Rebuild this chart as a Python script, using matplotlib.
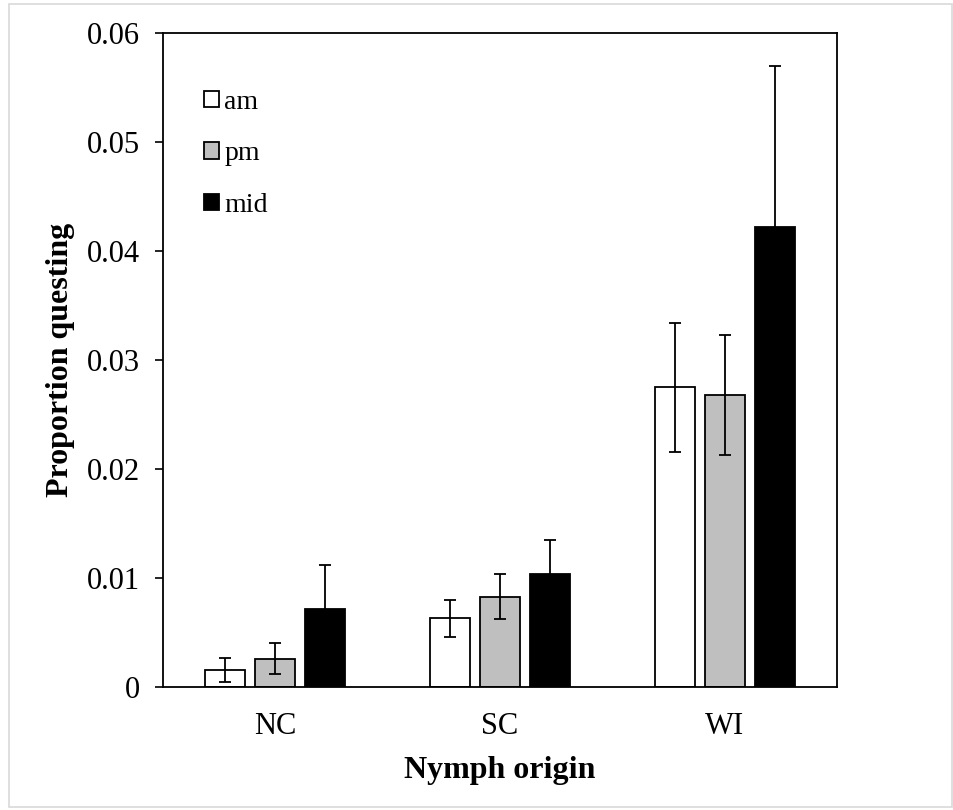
import numpy as np
import matplotlib
matplotlib.use('Agg')
from matplotlib import pyplot as plt
from matplotlib.patches import Rectangle

plt.rcParams['font.family'] = ['Liberation Serif', 'DejaVu Serif']

origins = ['NC', 'SC', 'WI']
series = ['am', 'pm', 'mid']
am = [0.0016, 0.0063, 0.0275]
pm = [0.0026, 0.0083, 0.0268]
mid = [0.0072, 0.0104, 0.0422]
am_err = [0.0011, 0.0017, 0.0059]
pm_err = [0.0014, 0.0021, 0.0055]
mid_err = [0.0040, 0.0031, 0.0148]
y_ticks = [0, 0.01, 0.02, 0.03, 0.04, 0.05, 0.06]
y_ticklabels = ['0', '0.01', '0.02', '0.03', '0.04', '0.05', '0.06']

fig = plt.figure(figsize=(9.54, 8.1), dpi=100)
ax = fig.add_axes([163 / 954, 123 / 810, 674 / 954, 654 / 810])

# light frame around the whole picture
fig.patches.append(Rectangle((9 / 954, 3 / 810), 943 / 954, 803 / 810,
                             transform=fig.transFigure, fill=False,
                             edgecolor='#d9d9d9', linewidth=1.2))

x = np.arange(len(origins))
width = 0.178
step = 0.2225
styles = [('white', am, am_err), ('#bfbfbf', pm, pm_err), ('black', mid, mid_err)]

for i, (color, vals, errs) in enumerate(styles):
    pos = x + (i - 1) * step
    ax.bar(pos, vals, width, color=color, edgecolor='black', linewidth=1.3,
           label=series[i], zorder=2)
    ax.errorbar(pos, vals, yerr=errs, fmt='none', ecolor='black',
                elinewidth=1.3, capsize=4.3, capthick=1.3, zorder=3)

ax.set_xlim(-0.5, 2.5)
ax.set_ylim(0, 0.06)
ax.set_yticks(y_ticks)
ax.set_yticklabels(y_ticklabels)
ax.set_xticks(x)
ax.set_xticklabels(origins)
ax.tick_params(axis='y', direction='out', length=5.8, width=1.2, pad=11,
               labelsize=22)
ax.tick_params(axis='x', length=0, pad=18, labelsize=22)
for s in ax.spines.values():
    s.set_linewidth(1.3)

ax.set_xlabel('Nymph origin', fontsize=23, fontweight='bold', labelpad=11)
ax.set_ylabel('Proportion questing', fontsize=23, fontweight='bold', labelpad=8)

ax.legend(loc='upper left', bbox_to_anchor=(0.045, 0.93), frameon=False,
          fontsize=20, handlelength=0.52, handleheight=0.52,
          handletextpad=0.2, labelspacing=0.95, borderaxespad=0)

fig.savefig('out.png', dpi=100)
